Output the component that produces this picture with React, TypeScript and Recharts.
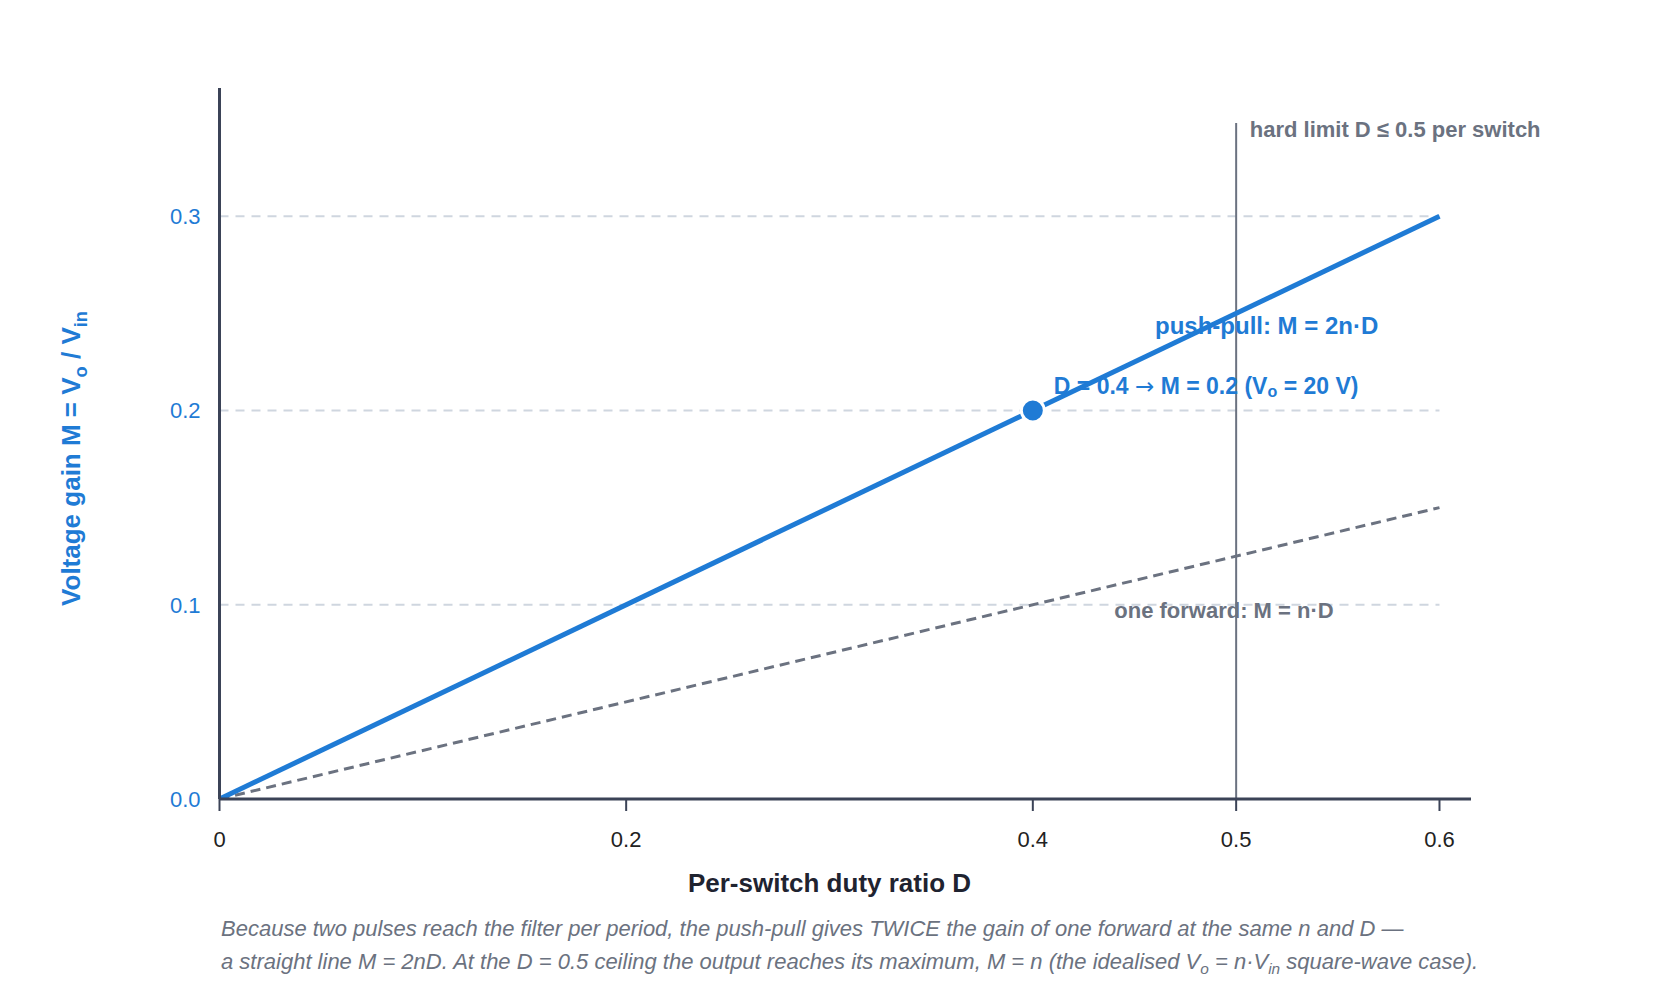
import React from 'react';
import { ComposedChart, Line, Scatter, XAxis, YAxis, ReferenceLine, ReferenceDot } from 'recharts';

// Gain curves of push-pull vs. a single forward converter, M over duty ratio D
const dutyRatio = [0, 0.6];
const pushPullGain = [0, 0.3];
const forwardGain = [0, 0.15];
const operatingPoint = [{ d: 0.4, m: 0.2 }];
const dutyLimit = 0.5;
const xTicks = [0, 0.2, 0.4, 0.5, 0.6];
const yTicks = [0, 0.1, 0.2, 0.3];

const chartData = dutyRatio.map((d, i) => ({ d, pushPull: pushPullGain[i], forward: forwardGain[i] }));

const X_MAX = 0.6155;
const Y_MAX = 0.366;
const LIMIT_TOP = 0.348;

const BLUE = '#1f7bd5';
const GRAY = '#6b7280';
const AXIS = '#3b4357';
const GRID = '#cfd6df';
const FONT = '"Liberation Sans", Arial, Helvetica, sans-serif';

if (typeof document !== 'undefined') document.body.style.margin = '0';

const sub = (s: string, shift = 'sub') => (
  <tspan baselineShift={shift} fontSize="0.7em">{s}</tspan>
);

// text anchored to a zero-radius ReferenceDot
const anchored = (content: React.ReactNode, dx: number, dy: number, color: string, anchor = 'start', size = 22) =>
  (p: any) => {
    const vb = p.viewBox || {};
    return (
      <text x={vb.x + dx} y={vb.y + dy} fill={color} fontFamily={FONT} fontSize={size} fontWeight={700}
        textAnchor={anchor} dominantBaseline="central">
        {content}
      </text>
    );
  };

const App: React.FC = () => {
  return (
    <div style={{ position: 'relative', width: 1680, height: 1000, background: '#fff', fontFamily: FONT }}>
      <ComposedChart width={1680} height={1000} data={chartData}
        margin={{ top: 88, right: 209, bottom: 141, left: 119.5 }}>
        <XAxis dataKey="d" type="number" domain={[0, X_MAX]} ticks={xTicks} allowDataOverflow
          height={60} tickSize={12} tickMargin={20}
          axisLine={{ stroke: AXIS, strokeWidth: 3 }} tickLine={{ stroke: AXIS, strokeWidth: 2 }}
          tick={{ fill: '#222', fontSize: 22, fontFamily: FONT }}
          label={(p: any) => {
            const vb = p.viewBox;
            const cx = vb.x + (vb.width * 0.6) / X_MAX / 2;
            return (
              <text x={cx} y={vb.y + 84} textAnchor="middle" dominantBaseline="central" fill="#1f2330"
                fontFamily={FONT} fontSize={26} fontWeight={700}>
                Per-switch duty ratio D
              </text>
            );
          }} />
        <YAxis type="number" domain={[0, Y_MAX]} ticks={yTicks} allowDataOverflow width={100}
          tickSize={0} tickMargin={19} tickLine={false}
          tickFormatter={(v: number) => v.toFixed(1)}
          axisLine={{ stroke: AXIS, strokeWidth: 3 }}
          tick={{ fill: BLUE, fontSize: 22, fontFamily: FONT }}
          label={(p: any) => {
            const vb = p.viewBox;
            const x = vb.x - 48.5;
            const y = vb.y + vb.height / 2 + 15;
            return (
              <text x={x} y={y} transform={`rotate(-90 ${x} ${y})`} textAnchor="middle" dominantBaseline="central"
                fill={BLUE} fontFamily={FONT} fontSize={26} fontWeight={700}>
                Voltage gain M = V{sub('o')} / V{sub('in')}
              </text>
            );
          }} />

        {yTicks.map((v) => (
          <ReferenceLine key={v} segment={[{ x: 0, y: v }, { x: xTicks[xTicks.length - 1], y: v }]}
            stroke={GRID} strokeWidth={2} strokeDasharray="9 7" />
        ))}

        <ReferenceLine segment={[{ x: dutyLimit, y: 0 }, { x: dutyLimit, y: LIMIT_TOP }]} stroke={GRAY} strokeWidth={2} />

        <Line dataKey="forward" stroke={GRAY} strokeWidth={3} strokeDasharray="10 6" dot={false} activeDot={false}
          isAnimationActive={false} />
        <Line dataKey="pushPull" stroke={BLUE} strokeWidth={5} dot={false} activeDot={false}
          isAnimationActive={false} />
        <Scatter data={operatingPoint} dataKey="m" isAnimationActive={false}
          shape={(p: any) => <circle cx={p.cx} cy={p.cy} r={11.5} fill={BLUE} stroke="#fff" strokeWidth={3} />} />

        <ReferenceDot x={dutyLimit} y={LIMIT_TOP} r={0} stroke="none"
          label={anchored('hard limit D ≤ 0.5 per switch', 13.6, 6.3, GRAY)} />
        <ReferenceDot x={0.515} y={0.244} r={0} stroke="none"
          label={anchored('push-pull: M = 2n·D', 0, 0, BLUE, 'middle', 24)} />
        <ReferenceDot x={operatingPoint[0].d} y={operatingPoint[0].m} r={0} stroke="none"
          label={anchored(
            <>
              D = 0.4 <tspan fontFamily='"DejaVu Sans", sans-serif' fontWeight={400}>→</tspan> M = 0.2 (V
              {sub('o', '-30%')} = 20 V)
            </>,
            21, -24, BLUE, 'start', 23)} />
        <ReferenceDot x={0.494} y={0.097} r={0} stroke="none"
          label={anchored('one forward: M = n·D', 0, 0, GRAY, 'middle')} />
      </ComposedChart>

      <div style={{ position: 'absolute', left: 221, top: 911.5, color: GRAY, fontStyle: 'italic', fontSize: 22,
        lineHeight: '33px', whiteSpace: 'nowrap' }}>
        <div>Because two pulses reach the filter per period, the push-pull gives TWICE the gain of one forward at the same n and D —</div>
        <div>
          a straight line M = 2nD. At the D = 0.5 ceiling the output reaches its maximum, M = n (the idealised V
          <span style={{ fontSize: '0.7em', verticalAlign: '-0.3em', lineHeight: 0 }}>o</span> = n·V
          <span style={{ fontSize: '0.7em', verticalAlign: '-0.3em', lineHeight: 0 }}>in</span> square-wave case).
        </div>
      </div>
    </div>
  );
};

export default App;
